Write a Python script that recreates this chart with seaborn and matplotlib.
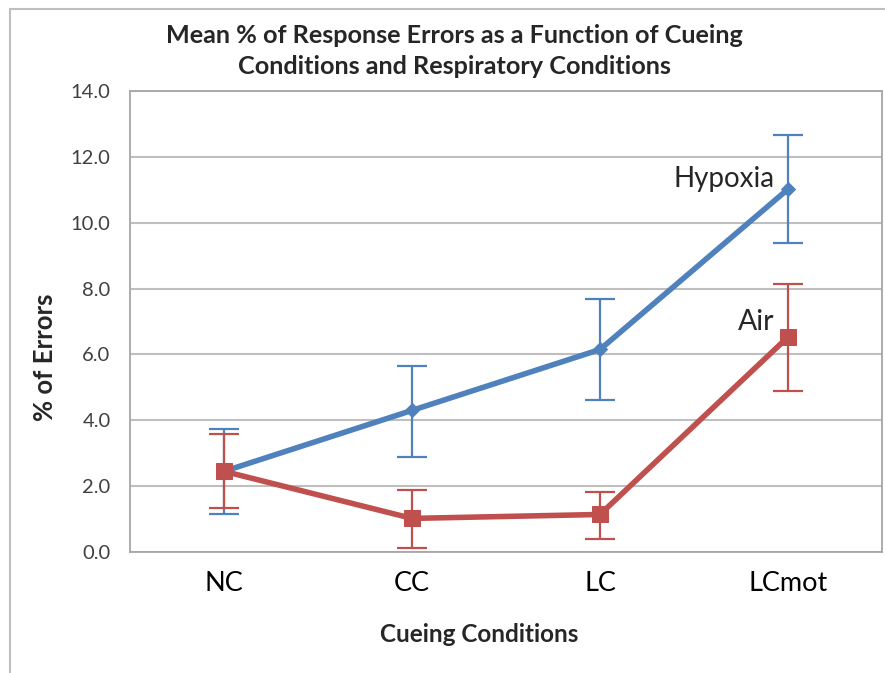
import matplotlib
matplotlib.use("Agg")
import matplotlib.pyplot as plt
import seaborn as sns
import pandas as pd
from matplotlib.patches import Rectangle

categories = ["NC", "CC", "LC", "LCmot"]
hypoxia_mean = [2.45, 4.30, 6.15, 11.02]
hypoxia_upper = [3.73, 5.65, 7.68, 12.66]
hypoxia_lower = [1.15, 2.88, 4.62, 9.38]
air_mean = [2.45, 1.02, 1.14, 6.53]
air_upper = [3.57, 1.88, 1.82, 8.14]
air_lower = [1.35, 0.13, 0.40, 4.89]
yticks = [0, 2, 4, 6, 8, 10, 12, 14]

BLUE = "#4F81BD"
RED = "#C0504D"

sns.set_theme(style="white")
plt.rcParams['font.family'] = ['Lato', 'DejaVu Sans']

df = pd.DataFrame({
    "cond": categories * 2,
    "err": hypoxia_mean + air_mean,
    "resp": ["Hypoxia"] * 4 + ["Air"] * 4,
})

fig = plt.figure(figsize=(8.85, 6.73), dpi=100)
ax = fig.add_axes([130 / 885, 1 - 552 / 673, 752 / 885, 461 / 673])

# outer chart border
fig.add_artist(Rectangle((10 / 885, -0.1), 1.0, 1 - 9 / 673 + 0.1,
                         transform=fig.transFigure, fill=False,
                         edgecolor="#BFBFBF", linewidth=1.5))

pos = list(range(len(categories)))
for mean, lo, hi, color in [(hypoxia_mean, hypoxia_lower, hypoxia_upper, BLUE),
                            (air_mean, air_lower, air_upper, RED)]:
    yerr = [[m - l for m, l in zip(mean, lo)], [h - m for m, h in zip(mean, hi)]]
    ax.errorbar(pos, mean, yerr=yerr, fmt="none", ecolor=color,
                elinewidth=1.6, capsize=10.5, capthick=1.6, zorder=3)

sns.lineplot(data=df[df.resp == "Hypoxia"], x="cond", y="err", ax=ax,
             color=BLUE, linewidth=4, marker="D", markersize=7,
             markeredgecolor=BLUE, sort=False, zorder=4, legend=False)
sns.lineplot(data=df[df.resp == "Air"], x="cond", y="err", ax=ax,
             color=RED, linewidth=4, marker="s", markersize=11,
             markeredgecolor=RED, sort=False, zorder=5, legend=False)

ax.set_xlim(-0.5, 3.5)
ax.set_ylim(0, 14)
ax.set_yticks(yticks)
ax.set_yticklabels([f"{v:.1f}" for v in yticks], fontsize=14.5, color="#404040")
ax.set_xticks(pos)
ax.set_xticklabels(categories, fontsize=19.5, color="#000000")
ax.tick_params(axis="x", pad=14, length=0)
ax.tick_params(axis="y", pad=14, length=0)
ax.yaxis.grid(True, color="#BFBFBF", linewidth=1.5)
ax.set_axisbelow(True)
for s in ax.spines.values():
    s.set_color("#A6A6A6")
    s.set_linewidth(1.3)

ax.set_xlabel("Cueing Conditions", fontsize=17.5, fontweight="bold")
ax.xaxis.set_label_coords((479 - 130) / 752, (552 - 634) / 461)
ax.xaxis.label.set_va("center")
ax.set_ylabel("% of Errors", fontsize=18.5, fontweight="bold")
ax.yaxis.set_label_coords((45 - 130) / 752, (552 - 357) / 461)
ax.yaxis.label.set_va("center")

ax.text(3 - 0.07, 11.02 + 0.3, "Hypoxia", fontsize=20, ha="right", va="center")
ax.text(3 - 0.07, 6.53 + 0.45, "Air", fontsize=20.5, ha="right", va="center")

fig.text(454 / 885, 1 - 51 / 673,
         "Mean % of Response Errors as a Function of Cueing\nConditions and Respiratory Conditions",
         ha="center", va="center", fontsize=18.2, fontweight="bold", linespacing=1.45)

fig.savefig("out.png", dpi=100)
